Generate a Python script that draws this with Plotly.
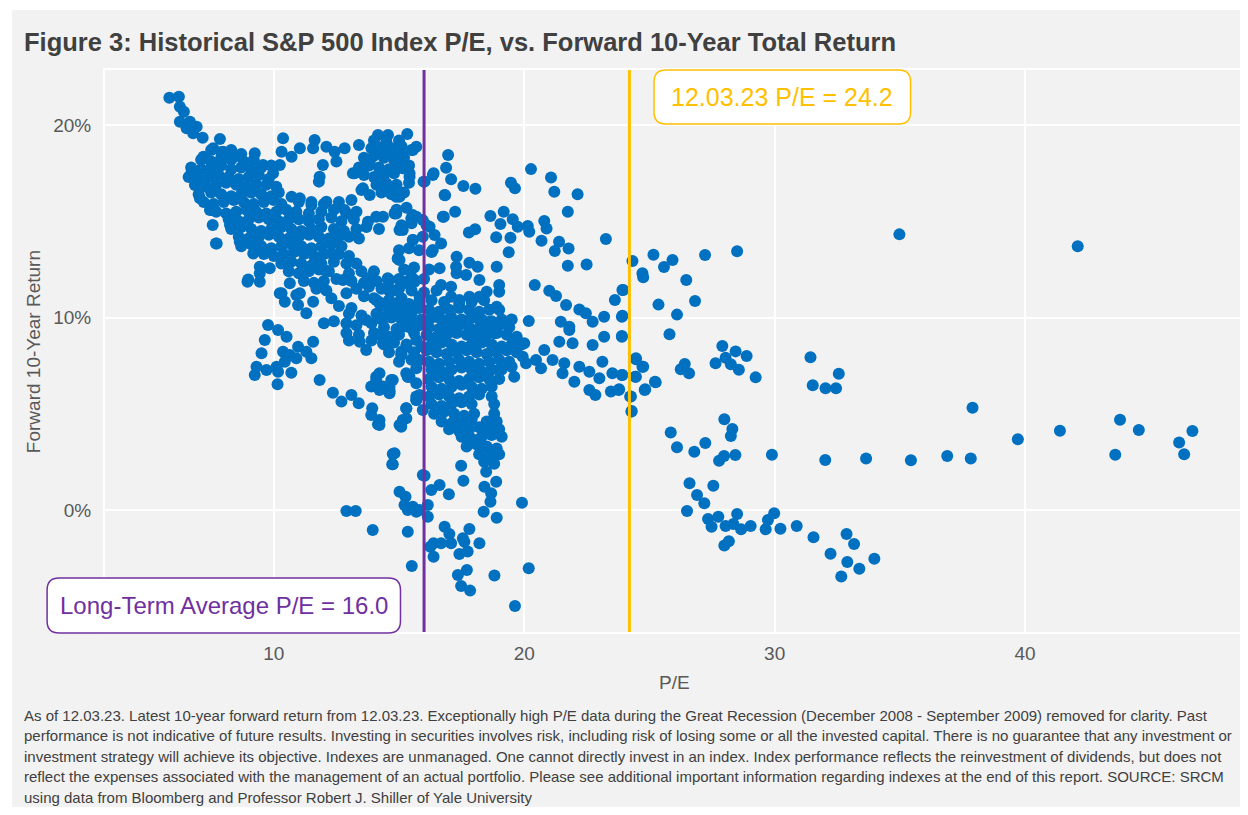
import plotly.graph_objects as go

# ---------------- data: (P/E, forward 10-year return in %) ----------------
upper_left_points = [
    (5.83, 21.42), (6.21, 21.47), (6.25, 20.95), (6.41, 20.69), (6.25, 20.17), (6.65, 20.17), (6.92, 19.91),
    (6.52, 19.83), (6.78, 19.57), (7.16, 19.34), (7.85, 19.27), (7.58, 18.79), (7.98, 18.61), (8.51, 18.39),
    (9.24, 18.53), (7.25, 18.27), (6.78, 17.54), (6.85, 16.88), (7.05, 16.19), (7.52, 15.58), (7.56, 14.81),
    (7.69, 13.85), (8.25, 14.81), (8.64, 13.94), (8.98, 11.98), (9.44, 12.64), (9.84, 12.56), (10.24, 11.26),
    (10.9, 11.17), (11.57, 10.82), (9.18, 13.33), (9.44, 13.77), (10.37, 19.31), (10.31, 18.61), (10.71, 18.35),
    (11.04, 18.79), (10.24, 17.92), (11.63, 19.22), (11.57, 18.79), (12.1, 18.87), (12.43, 18.61), (12.83, 18.79),
    (13.4, 18.96), (11.96, 17.92), (12.5, 18.1), (11.83, 17.32), (11.8, 17.06), (13.16, 17.49), (13.43, 17.58),
    (13.83, 18.1), (13.56, 16.71), (13.83, 16.36), (14.16, 19.48), (13.76, 14.98), (13.76, 12.04), (13.16, 15.24),
    (12.83, 15.58), (12.1, 16.02), (11.5, 15.84), (11.04, 16.19), (10.71, 16.28), (9.97, 17.49), (9.57, 17.92),
    (14.56, 19.48), (15.33, 19.53), (15.69, 18.87), (13.23, 17.49), (13.5, 16.62), (13.76, 18.18), (14.36, 18.87),
    (14.89, 18.35), (15.15, 17.75), (15.42, 17.32), (14.36, 17.14), (14.89, 16.28), (15.98, 17.06), (16.35, 17.4),
    (16.82, 16.36), (16.75, 15.24), (14.89, 15.41), (15.15, 14.55), (15.69, 15.24), (15.55, 14.03), (15.95, 14.2),
    (15.02, 12.99), (14.56, 11.95), (12.3, 13.33), (12.76, 11.95), (12.9, 11.26), (12.03, 12.47), (11.63, 12.64),
    (11.04, 11.26), (10.31, 11.26), (9.44, 12.3), (7.72, 13.85), (7.45, 15.58), (6.72, 17.57), (7.19, 18.35),
]

lower_left_points = [
    (8.95, 11.86), (9.44, 11.86), (10.64, 11.78), (10.44, 10.82), (10.97, 10.65), (11.3, 10.22),
    (9.77, 9.61), (10.17, 9.35), (10.51, 9.0), (9.64, 8.83), (9.51, 8.14), (10.37, 8.22), (10.64, 8.05),
    (10.97, 8.48), (11.3, 8.22), (11.57, 8.74), (11.5, 7.88), (10.9, 7.88), (10.44, 7.7), (10.11, 7.44),
    (9.71, 7.27), (9.31, 7.44), (9.24, 7.01), (10.17, 7.18), (10.7, 7.13), (10.15, 6.53), (11.83, 6.75),
    (12.36, 6.09), (12.7, 5.63), (13.1, 5.97), (13.39, 5.54), (13.89, 6.41), (14.09, 6.92), (14.36, 6.41),
    (14.69, 6.75), (14.62, 6.15), (13.93, 5.28), (13.89, 4.94), (14.16, 4.45), (15.02, 4.42), (15.29, 5.28),
    (15.69, 5.89), (15.42, 6.92), (15.69, 7.36), (14.82, 2.95), (14.73, 2.37), (15.95, 1.82), (13.69, 9.87),
    (13.43, 8.74), (13.69, 8.31), (14.36, 8.66), (14.49, 10.04), (15.15, 9.52), (15.09, 8.22), (15.82, 7.79),
    (15.69, 6.58), (12.9, -0.05), (13.27, -0.05), (13.95, -1.04),
    (14.09, 15.24), (14.82, 15.41), (15.55, 15.32), (14.95, 13.07), (14.62, 11.95), (15.29, 11.78),
    (15.62, 11.86), (14.09, 10.91), (14.42, 8.66), (15.29, 8.48), (15.75, 7.79), (14.09, 6.75), (14.62, 6.23),
    (15.35, 6.92), (15.69, 5.71), (15.15, 4.68), (14.22, 4.68),
]

upper_mid_points = [
    (16.96, 18.44), (16.88, 17.78), (16.38, 17.49), (17.08, 17.18), (16.02, 17.06), (17.57, 16.83), (18.05, 16.69),
    (16.84, 16.35), (20.27, 17.71), (21.07, 17.28), (21.2, 16.54), (22.13, 16.4), (19.47, 17.0), (19.63, 16.71),
    (21.74, 15.5), (17.24, 15.5), (16.79, 15.24), (18.65, 15.27), (19.18, 15.5), (19.05, 14.86), (19.54, 15.1),
    (19.74, 14.72), (20.14, 14.75), (20.2, 14.46), (20.8, 15.01), (20.89, 14.63), (20.69, 13.99), (21.39, 13.94),
    (21.22, 13.45), (21.77, 13.59), (21.74, 12.69), (22.49, 12.76), (23.26, 14.08), (17.79, 14.42), (18.04, 14.58),
    (18.88, 14.17), (19.45, 14.15), (19.38, 13.39), (18.9, 12.64), (17.3, 13.16), (17.81, 12.85), (18.14, 12.64),
    (17.3, 12.3), (17.68, 12.21), (18.21, 11.95), (16.68, 11.69), (19.0, 11.69), (19.0, 11.34), (18.5, 11.34),
    (20.42, 11.69), (21.0, 11.39), (21.27, 11.12), (21.67, 10.65), (22.2, 10.42), (23.92, 11.43), (23.62, 10.91),
    (23.92, 10.09), (22.46, 10.22), (22.73, 9.78), (23.19, 10.04), (21.46, 9.78), (21.8, 9.52), (20.18, 9.82),
    (18.9, 10.56), (17.41, 10.91), (17.08, 11.08), (17.81, 11.08), (18.21, 11.08), (17.08, 11.6), (17.28, 12.64),
    (16.62, 12.56), (16.35, 13.51), (16.68, 13.85), (16.42, 14.29), (16.22, 14.72), (15.95, 15.06), (15.49, 15.15),
    (15.55, 14.03), (15.02, 14.55), (14.89, 15.5), (15.02, 16.28), (15.42, 17.49), (15.55, 18.7), (15.09, 18.44),
    (14.62, 18.53), (14.49, 16.97), (14.75, 16.54), (14.36, 15.24), (14.95, 13.07), (14.55, 12.04), (15.29, 11.86),
    (15.62, 11.95), (15.82, 11.08), (15.15, 10.74), (14.22, 10.74), (14.49, 10.04), (15.42, 10.22), (16.48, 10.04),
    (17.08, 10.04), (17.28, 9.52), (18.21, 9.87), (18.61, 9.78), (18.81, 9.18), (17.94, 9.35),
]

center_low_points = [
    (20.0, 8.66), (20.8, 8.31), (21.4, 8.74), (21.93, 8.66), (22.73, 8.57), (23.19, 9.0), (23.9, 9.04), (21.8, 9.35),
    (19.94, 7.96), (20.47, 7.79), (20.67, 7.36), (21.13, 7.79), (21.6, 7.62), (21.53, 7.1), (22.2, 7.44), (22.0, 6.66),
    (22.6, 7.18), (23.0, 6.84), (23.12, 7.7), (22.6, 6.23), (22.84, 5.97), (23.52, 7.1), (23.46, 6.15), (23.77, 6.23),
    (23.92, 7.01), (24.46, 7.88), (24.72, 7.44), (24.46, 6.92), (24.81, 6.23), (25.22, 6.66), (24.26, 5.89),
    (24.29, 5.14), (19.6, 6.92), (19.5, 7.44), (19.0, 7.27), (20.07, 7.62),
    (17.48, 2.3), (17.57, 1.52), (18.48, 1.99), (18.88, 1.47), (18.41, 1.21), (18.68, 0.87), (18.65, 0.43),
    (18.38, -0.09), (18.9, -0.4), (19.91, 0.38), (16.62, 1.3), (16.29, 1.04), (16.99, 0.82), (16.02, 1.78),
    (15.02, 0.95), (15.26, 0.69), (15.22, 0.26), (15.55, 0.17), (15.82, 0.0), (16.15, 0.26), (16.15, -0.35),
    (15.35, -1.13), (16.82, -0.87), (17.01, -1.25), (17.81, -0.99), (17.55, -1.47), (18.21, -1.73), (16.38, -1.73),
    (16.25, -1.91), (16.68, -1.73), (17.08, -1.73), (16.38, -2.43), (17.41, -2.29), (17.74, -2.16), (17.61, -1.65),
    (15.51, -2.91), (17.35, -3.38), (17.71, -3.12), (17.48, -3.95), (17.84, -4.19), (18.81, -3.41), (20.18, -3.03),
    (19.63, -4.99), (14.75, 2.91), (14.75, 2.37), (15.35, 0.0), (15.69, -0.09), (14.62, 6.41), (14.22, 6.23),
    (14.62, 6.06), (14.22, 4.42), (15.09, 4.33), (15.29, 4.76), (15.29, 5.28), (15.69, 5.71), (15.82, 5.97),
    (15.95, 5.19), (14.75, 6.75), (15.35, 6.92), (15.75, 7.79), (15.29, 7.1), (14.22, 7.1), (15.09, 8.05),
    (14.49, 8.66), (15.69, 8.83),
]

right_points = [
    (24.32, 12.94), (25.16, 13.26), (25.58, 12.62), (25.92, 12.99), (24.72, 12.3), (24.75, 12.09), (27.22, 13.25),
    (28.5, 13.44), (26.47, 11.95), (23.95, 11.43), (25.36, 10.67), (26.82, 10.86), (26.1, 10.15), (23.9, 10.04),
    (23.9, 9.0), (25.8, 9.13), (27.91, 8.52), (28.44, 8.24), (28.88, 8.0), (27.64, 7.62), (28.04, 7.91),
    (28.25, 7.57), (28.57, 7.29), (29.24, 6.89), (26.41, 7.58), (26.25, 7.31), (26.58, 7.1), (24.46, 7.83),
    (24.75, 7.44), (24.43, 6.92), (23.9, 7.01), (25.25, 6.63), (24.83, 6.27), (23.79, 6.27), (24.23, 5.89),
    (24.28, 5.11), (31.43, 7.93), (32.56, 7.08), (31.52, 6.48), (32.03, 6.32), (32.45, 6.32), (27.99, 4.71),
    (25.85, 4.03), (26.1, 3.26), (26.79, 3.03), (27.23, 3.48), (28.31, 4.21), (28.25, 3.84), (27.78, 2.56),
    (27.98, 2.81), (28.43, 2.86), (29.89, 2.87), (32.02, 2.6), (33.65, 2.68), (35.44, 2.58), (26.6, 1.39),
    (27.55, 1.26), (26.9, 0.78), (27.19, 0.35), (26.5, -0.05), (27.34, -0.47), (27.75, -0.35), (27.48, -0.87),
    (28.04, -0.83), (28.5, -0.21), (28.35, -0.73), (28.66, -1.0), (29.04, -0.83), (27.99, -1.85), (28.17, -1.63),
    (29.64, -1.0), (29.73, -0.52), (29.98, -0.17), (30.23, -0.97), (30.88, -0.83), (31.55, -1.42), (32.23, -2.27),
    (32.87, -1.25), (33.17, -1.77), (32.9, -2.7), (33.38, -3.05), (33.98, -2.53), (32.66, -3.46),
    (34.98, 14.32), (42.1, 13.7), (37.9, 5.31), (36.89, 2.8), (37.83, 2.68), (39.71, 3.67), (41.39, 4.12),
    (43.79, 4.69), (44.54, 4.16), (43.6, 2.87), (46.15, 3.5), (46.68, 4.1), (46.35, 2.89),
]

dense_left_points = [
    (7.5, 18.7), (7.9, 18.6), (8.3, 18.7), (8.7, 18.5),
    (7.1, 18.2), (7.5, 18.1), (7.9, 18.3), (8.3, 18.2), (8.8, 18.1), (9.2, 18.2),
    (6.7, 17.8), (7.1, 17.7), (7.5, 17.8), (7.9, 17.9), (8.3, 17.7), (8.7, 17.8), (9.1, 17.7), (9.5, 17.8), (9.9, 17.9),
    (6.6, 17.3), (7.0, 17.2), (7.4, 17.3), (7.8, 17.4), (8.2, 17.3), (8.6, 17.2), (9.0, 17.3), (9.4, 17.4), (9.8, 17.2),
    (6.9, 16.9), (7.3, 16.8), (7.7, 16.9), (8.1, 17.0), (8.5, 16.9), (8.9, 16.8), (9.3, 16.9), (9.7, 16.9), (10.1, 16.8),
    (7.0, 16.4), (7.5, 16.5), (7.9, 16.4), (8.3, 16.3), (8.7, 16.4), (9.1, 16.5), (9.5, 16.4), (9.9, 16.3), (10.2, 16.5),
    (7.2, 16.0), (7.6, 15.9), (8.0, 16.0), (8.4, 16.1), (8.8, 16.0), (9.2, 15.9), (9.6, 16.0), (10.0, 16.1),
    (10.3, 15.9), (11.0, 16.0), (11.5, 16.0), (12.0, 15.9), (12.6, 16.0), (13.1, 16.1),
    (7.7, 15.5), (8.1, 15.4), (8.5, 15.5), (8.9, 15.6), (9.3, 15.5), (9.7, 15.4), (10.1, 15.5), (10.5, 15.6),
    (10.9, 15.5), (11.4, 15.4), (11.9, 15.5), (12.4, 15.6), (12.9, 15.4), (13.3, 15.5),
    (8.2, 15.1), (8.6, 15.0), (9.0, 15.1), (9.4, 15.2), (9.8, 15.1), (10.2, 15.0), (10.6, 15.1), (11.0, 15.1),
    (11.4, 15.0), (11.8, 15.1), (12.3, 15.2), (12.7, 15.0), (13.2, 15.1),
    (8.3, 14.6), (8.7, 14.7), (9.1, 14.6), (9.5, 14.5), (9.9, 14.6), (10.3, 14.7), (10.7, 14.6), (11.1, 14.5),
    (11.5, 14.6), (11.9, 14.7), (12.4, 14.6), (12.8, 14.5), (13.3, 14.6), (13.7, 14.7), (14.2, 14.6),
    (8.6, 14.2), (9.0, 14.1), (9.4, 14.2), (9.8, 14.3), (10.2, 14.2), (10.6, 14.1), (11.0, 14.2), (11.4, 14.3),
    (11.8, 14.2), (12.2, 14.1), (12.6, 14.2), (13.0, 14.2), (13.4, 14.1),
    (8.7, 13.7), (9.1, 13.8), (9.5, 13.7), (9.9, 13.6), (10.3, 13.7), (10.7, 13.8), (11.1, 13.7), (11.5, 13.6),
    (11.9, 13.7), (12.3, 13.8), (12.7, 13.7),
    (9.6, 13.3), (10.0, 13.2), (10.4, 13.3), (10.8, 13.4), (11.2, 13.3), (11.6, 13.2), (12.0, 13.3), (12.6, 13.3), (13.0, 13.2),
    (10.3, 12.8), (10.7, 12.9), (11.1, 12.8), (11.5, 12.7), (11.9, 12.8), (12.4, 12.9), (12.9, 12.8), (13.3, 12.8),
    (10.6, 12.4), (11.0, 12.3), (11.4, 12.4), (11.8, 12.5), (12.2, 12.4), (13.0, 12.3), (13.5, 12.4), (14.0, 12.4),
    (11.2, 11.9), (11.6, 11.8), (12.0, 11.9), (12.5, 12.0), (13.1, 11.9), (13.6, 11.8), (14.1, 11.9),
    (11.7, 11.5), (12.1, 11.4), (13.3, 11.5), (13.8, 11.6), (14.3, 11.5), (14.8, 11.4),
    (12.3, 11.0), (13.6, 11.1), (14.0, 11.0), (14.6, 10.9), (15.1, 11.0),
    (12.6, 10.6), (13.1, 10.5), (14.3, 10.6), (14.8, 10.7), (15.3, 10.6),
    (13.0, 10.2), (13.5, 10.1), (14.1, 10.2), (15.0, 10.3), (15.5, 10.2),
    (12.0, 9.7), (12.4, 9.8), (12.9, 9.7), (13.3, 9.6), (13.9, 9.7),
    (12.9, 9.2), (13.4, 9.1), (14.0, 9.2), (13.0, 8.8), (13.9, 8.8),
]

dense_upper_points = [
    (14.0, 19.2), (14.5, 19.1), (15.0, 19.2),
    (13.9, 18.8), (14.3, 18.7), (14.7, 18.8), (15.1, 18.9), (15.5, 18.7),
    (13.6, 18.3), (14.0, 18.4), (14.4, 18.3), (14.8, 18.2), (15.2, 18.3),
    (13.4, 17.8), (13.8, 17.9), (14.2, 17.8), (14.6, 17.7), (15.0, 17.8), (15.4, 17.9),
    (13.6, 17.4), (14.0, 17.3), (14.4, 17.4), (14.8, 17.5),
    (14.1, 16.9), (14.5, 16.8), (14.9, 16.9), (15.4, 17.0),
    (14.3, 16.5), (14.7, 16.4), (15.2, 16.5),
    (14.9, 15.6), (15.3, 15.7), (15.1, 14.8), (15.5, 14.9), (16.1, 14.8),
    (15.0, 13.5), (15.4, 13.6), (15.8, 13.5), (16.3, 13.4),
    (15.2, 12.5), (15.6, 12.6), (16.2, 12.5), (15.0, 12.0), (15.5, 12.1), (16.0, 12.0),
    (14.6, 11.4), (15.0, 11.5), (15.5, 11.4), (16.0, 11.3), (16.5, 11.4),
]

dense_center_points = [
    (14.2, 10.8), (14.6, 10.9), (15.0, 10.8), (15.4, 10.7), (15.8, 10.8), (16.3, 10.9), (16.8, 10.8), (17.4, 10.7),
    (17.9, 10.8), (18.4, 10.9),
    (14.6, 10.4), (15.0, 10.3), (15.4, 10.4), (15.8, 10.5), (16.2, 10.4), (16.6, 10.3), (17.0, 10.4), (17.4, 10.5),
    (17.8, 10.4), (18.2, 10.3), (18.6, 10.4), (19.0, 10.4),
    (14.3, 9.9), (14.7, 10.0), (15.1, 9.9), (15.5, 9.8), (15.9, 9.9), (16.3, 10.0), (16.7, 9.9), (17.1, 9.8),
    (17.5, 9.9), (17.9, 10.0), (18.3, 9.9), (18.7, 9.8), (19.1, 9.9), (19.5, 9.9),
    (14.4, 9.5), (14.9, 9.4), (15.4, 9.5), (15.8, 9.6), (16.2, 9.5), (16.6, 9.4), (17.0, 9.5), (17.4, 9.6),
    (17.8, 9.5), (18.2, 9.4), (18.6, 9.5), (19.0, 9.6), (19.4, 9.5),
    (14.2, 9.1), (14.6, 9.0), (15.0, 9.1), (15.6, 9.2), (16.1, 9.1), (16.5, 9.0), (16.9, 9.1), (17.3, 9.2),
    (17.7, 9.1), (18.1, 9.0), (18.5, 9.1), (18.9, 9.2), (19.3, 9.1), (19.7, 9.0),
    (14.4, 8.6), (14.8, 8.7), (15.3, 8.6), (15.9, 8.5), (16.3, 8.6), (16.7, 8.7), (17.1, 8.6), (17.5, 8.5),
    (17.9, 8.6), (18.3, 8.7), (18.7, 8.6), (19.1, 8.5), (19.5, 8.6), (19.9, 8.6),
    (14.6, 8.2), (15.1, 8.1), (15.6, 8.2), (16.1, 8.3), (16.5, 8.2), (16.9, 8.1), (17.3, 8.2), (17.7, 8.3),
    (18.1, 8.2), (18.5, 8.1), (18.9, 8.2), (19.3, 8.3), (19.7, 8.2),
    (15.0, 7.7), (15.5, 7.8), (16.2, 7.7), (16.6, 7.6), (17.0, 7.7), (17.4, 7.8), (17.8, 7.7), (18.2, 7.6),
    (18.6, 7.7), (19.0, 7.8), (19.4, 7.7),
    (16.3, 7.3), (16.7, 7.2), (17.1, 7.3), (17.5, 7.4), (17.9, 7.3), (18.3, 7.2), (18.7, 7.3), (19.1, 7.3),
    (16.2, 6.8), (16.6, 6.9), (17.0, 6.8), (17.4, 6.7), (17.8, 6.8), (18.2, 6.9), (18.6, 6.8), (19.0, 6.8),
    (16.3, 6.4), (16.7, 6.3), (17.1, 6.4), (17.5, 6.5), (17.9, 6.4), (18.3, 6.3), (18.7, 6.4),
    (16.2, 5.9), (16.6, 6.0), (17.0, 5.9), (17.4, 5.8), (17.8, 5.9), (18.2, 6.0), (18.7, 5.9),
    (16.3, 5.5), (16.7, 5.4), (17.1, 5.5), (17.5, 5.6), (17.9, 5.5), (18.8, 5.5),
    (16.4, 5.0), (16.8, 5.1), (17.2, 5.0), (17.6, 4.9), (18.0, 5.0), (18.8, 5.0),
    (16.7, 4.6), (17.1, 4.5), (17.5, 4.6), (17.9, 4.7), (18.5, 4.6), (18.9, 4.6),
    (17.0, 4.2), (17.4, 4.1), (17.8, 4.2), (18.2, 4.3), (18.6, 4.2), (19.0, 4.2),
    (17.5, 3.8), (17.9, 3.7), (18.3, 3.8), (18.7, 3.9), (19.1, 3.8),
    (17.7, 3.3), (18.1, 3.4), (18.5, 3.3), (18.9, 3.2),
    (18.2, 2.9), (18.6, 2.8), (19.0, 2.9), (18.4, 2.5), (18.8, 2.4),
]

point_groups = [upper_left_points, lower_left_points, upper_mid_points, center_low_points,
                right_points, dense_left_points, dense_upper_points, dense_center_points]
pe_values = [p for g in point_groups for p, _ in g]
return_values = [r for g in point_groups for _, r in g]

long_term_avg_pe = 16.0
current_pe = 24.2
x_ticks = [10, 20, 30, 40]
y_ticks = [0, 10, 20]
y_tick_labels = ["0%", "10%", "20%"]

title_text = "Figure 3: Historical S&amp;P 500 Index P/E, vs. Forward 10-Year Total Return"
footnote_lines = [
    "As of 12.03.23. Latest 10-year forward return from 12.03.23. Exceptionally high P/E data during the Great Recession (December 2008 - September 2009) removed for clarity. Past",
    "performance is not indicative of future results. Investing in securities involves risk, including risk of losing some or all the invested capital. There is no guarantee that any investment or",
    "investment strategy will achieve its objective. Indexes are unmanaged. One cannot directly invest in an index. Index performance reflects the reinvestment of dividends, but does not",
    "reflect the expenses associated with the management of an actual portfolio. Please see additional important information regarding indexes at the end of this report. SOURCE: SRCM",
    "using data from Bloomberg and Professor Robert J. Shiller of Yale University",
]

# ---------------- layout geometry (page pixels; the page body has an 8px margin) ----------------
OFF = 8
W, H = 1248 - OFF, 815 - 2 * OFF
PL, PR, PT, PB = 105, 1245, 70, 632          # plot area in page pixels
PW, PH = PR - PL, PB - PT


def px2x(px):
    return (px - PL) / PW


def py2y(py):
    return (PB - py) / PH


def rounded_box(x0, y0, x1, y1, r):
    def P(a, b):
        return f"{px2x(a):.5f},{py2y(b):.5f}"
    return (f"M {P(x0 + r, y0)} L {P(x1 - r, y0)} Q {P(x1, y0)} {P(x1, y0 + r)} "
            f"L {P(x1, y1 - r)} Q {P(x1, y1)} {P(x1 - r, y1)} L {P(x0 + r, y1)} "
            f"Q {P(x0, y1)} {P(x0, y1 - r)} L {P(x0, y0 + r)} Q {P(x0, y0)} {P(x0 + r, y0)} Z")


BLUE = "#0070c0"
PURPLE = "#7030a0"
GOLD = "#ffc000"
BG = "#f2f2f2"
TXT = "#595959"
DARK = "#404040"
REG = "Liberation Sans, Arial, sans-serif"

fig = go.Figure()
fig.add_trace(go.Scatter(
    x=pe_values, y=return_values, mode="markers",
    marker=dict(color=BLUE, size=12, line=dict(width=0)),
    hoverinfo="x+y", showlegend=False,
))

shapes = [
    dict(type="rect", xref="paper", yref="paper", x0=px2x(12), x1=px2x(1260), y0=py2y(830), y1=py2y(10),
         fillcolor=BG, line=dict(width=0), layer="below"),
    dict(type="line", xref="x", yref="paper", x0=long_term_avg_pe, x1=long_term_avg_pe, y0=0, y1=1,
         line=dict(color=PURPLE, width=3)),
    dict(type="line", xref="x", yref="paper", x0=current_pe, x1=current_pe, y0=0, y1=1,
         line=dict(color=GOLD, width=3)),
    dict(type="path", xref="paper", yref="paper", path=rounded_box(655, 70, 912, 124, 12),
         fillcolor="white", line=dict(color=GOLD, width=1.5)),
    dict(type="path", xref="paper", yref="paper", path=rounded_box(47, 578, 401, 633, 12),
         fillcolor="white", line=dict(color=PURPLE, width=1.5)),
]

annotations = [
    dict(text=f"<b>{title_text}</b>", x=px2x(22), y=py2y(42), xref="paper", yref="paper",
         xanchor="left", yanchor="middle", showarrow=False,
         font=dict(family=REG, size=25.5, color=DARK)),
    dict(text="Forward 10-Year Return", x=px2x(33), y=py2y(352), xref="paper", yref="paper",
         textangle=-90, xanchor="center", yanchor="middle", showarrow=False,
         font=dict(family=REG, size=19, color=TXT)),
    dict(text="P/E", x=px2x(675), y=py2y(682), xref="paper", yref="paper",
         xanchor="center", yanchor="middle", showarrow=False,
         font=dict(family=REG, size=19, color=TXT)),
    dict(text=f"12.03.23 P/E = {current_pe}", x=px2x(783.5), y=py2y(97), xref="paper", yref="paper",
         xanchor="center", yanchor="middle", showarrow=False,
         font=dict(family=REG, size=25, color=GOLD)),
    dict(text=f"Long-Term Average P/E = {long_term_avg_pe:.1f}", x=px2x(224), y=py2y(605.5),
         xref="paper", yref="paper", xanchor="center", yanchor="middle", showarrow=False,
         font=dict(family=REG, size=24, color=PURPLE)),
]
for i, line in enumerate(footnote_lines):
    annotations.append(dict(text=line, x=px2x(22), y=py2y(715 + 20.5 * i), xref="paper", yref="paper",
                            xanchor="left", yanchor="middle", align="left", showarrow=False,
                            font=dict(family=REG, size=15, color=DARK)))

fig.update_layout(
    width=W, height=H, autosize=False,
    margin=dict(l=PL - OFF, r=(W + OFF) - PR, t=PT - OFF, b=(H + OFF) - PB, pad=0),
    paper_bgcolor="white", plot_bgcolor=BG,
    shapes=shapes, annotations=annotations,
    xaxis=dict(range=[3.26, 48.7], tickvals=x_ticks, showgrid=True, gridcolor="white", gridwidth=1.5,
               zeroline=False, showline=True, linecolor="white", linewidth=2, mirror=True,
               ticks="outside", ticklen=3, tickcolor="rgba(0,0,0,0)",
               tickfont=dict(family=REG, size=19, color=TXT)),
    yaxis=dict(range=[-6.34, 22.86], tickvals=y_ticks, ticktext=y_tick_labels, showgrid=True,
               gridcolor="white", gridwidth=1.5, zeroline=False, showline=True, linecolor="white",
               linewidth=2, mirror=True, ticks="outside", ticklen=8, tickcolor="rgba(0,0,0,0)",
               tickfont=dict(family=REG, size=19, color=TXT)),
)

fig.write_html("out.html")
